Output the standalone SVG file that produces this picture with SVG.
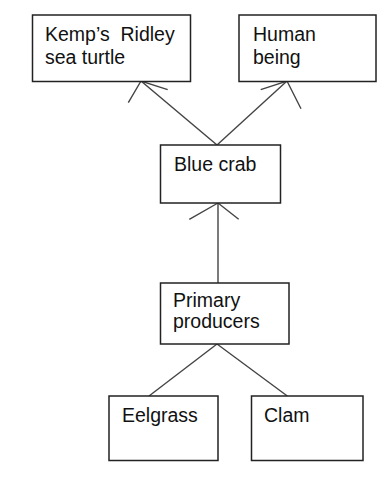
<svg xmlns="http://www.w3.org/2000/svg" width="392" height="484" viewBox="0 0 392 484">
<style>
.box{fill:#fff;stroke:#222;stroke-width:1.5}
.lbl{font-family:"Liberation Sans",Arial,sans-serif;font-size:19.5px;fill:#111;white-space:pre}
.con{fill:none;stroke:#444;stroke-width:1.4}
</style>
<rect width="392" height="484" fill="#fff"/>
<g id="connectors">
<line class="con" x1="217" y1="145" x2="141" y2="81"/>
<polyline class="con" points="128.3,102.7 141,81 167.7,89.7"/>
<line class="con" x1="217" y1="145" x2="287" y2="81"/>
<polyline class="con" points="260.7,89.7 287,81 301,108.7"/>
<line class="con" x1="218" y1="283" x2="218" y2="203"/>
<polyline class="con" points="189.3,219.3 218,203 238.7,219.3"/>
<line class="con" x1="217" y1="344" x2="149" y2="396"/>
<line class="con" x1="217" y1="344" x2="287.3" y2="396"/>
</g>
<g id="kemps">
<rect class="box" x="32.5" y="15" width="158" height="66.5"/>
<text class="lbl" x="45" y="41" xml:space="preserve">Kemp’s  Ridley</text>
<text class="lbl" x="45" y="64">sea turtle</text>
</g>
<g id="human">
<rect class="box" x="239" y="15" width="137" height="66.5"/>
<text class="lbl" x="253" y="41">Human</text>
<text class="lbl" x="253" y="64">being</text>
</g>
<g id="bluecrab">
<rect class="box" x="160.5" y="145" width="120" height="58"/>
<text class="lbl" x="174" y="171">Blue crab</text>
</g>
<g id="primary">
<rect class="box" x="160.5" y="283" width="128.5" height="61"/>
<text class="lbl" x="173" y="307">Primary</text>
<text class="lbl" x="173" y="328">producers</text>
</g>
<g id="eelgrass">
<rect class="box" x="109" y="396" width="109" height="64.5"/>
<text class="lbl" x="122" y="422">Eelgrass</text>
</g>
<g id="clam">
<rect class="box" x="251.5" y="396" width="111.5" height="64.5"/>
<text class="lbl" x="264" y="422">Clam</text>
</g>
</svg>
